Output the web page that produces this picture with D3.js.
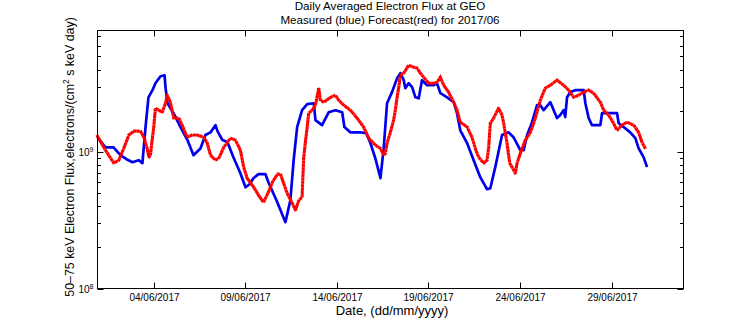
<!DOCTYPE html>
<html><head><meta charset="utf-8">
<script src="https://cdn.jsdelivr.net/npm/d3@7"></script>
<style>
body{margin:0;background:#fff}
svg{display:block}
text{font-family:"Liberation Sans",Arial,Helvetica,sans-serif;fill:#000}
</style>
</head><body>
<svg id="chart" width="756" height="324"></svg>
<script>
// ---- data (day = day of June 2017, fractional; flux in electrons/(cm^2 s keV day)) ----
const titleLines = ["Daily Averaged Electron Flux at GEO", "Measured (blue) Forecast(red) for 2017/06"];
const xLabel = "Date, (dd/mm/yyyy)";
const xTickDays = [4, 9, 14, 19, 24, 29];
const yMajorTicks = [1e8, 1e9];
const yMajorExponents = ["8", "9"];
const yMinorTicks = [2e8,3e8,4e8,5e8,6e8,7e8,8e8,9e8,2e9,3e9,4e9,5e9,6e9,7e9];

const measured = [[0.93,1.28e9],[1.36,1.08e9],[1.80,1.08e9],[2.18,9.46e8],[2.51,8.84e8],[2.84,8.41e8],[3.17,8.70e8],[3.38,8.27e8],[3.55,1.52e9],[3.71,2.51e9],[3.93,2.83e9],[4.09,3.18e9],[4.37,3.58e9],[4.59,3.64e9],[4.64,2.98e9],[4.75,2.27e9],[5.08,1.92e9],[5.46,1.52e9],[5.84,1.22e9],[6.17,9.46e8],[6.55,1.06e9],[6.82,1.33e9],[7.10,1.39e9],[7.37,1.57e9],[7.48,1.42e9],[7.75,1.22e9],[8.02,1.18e9],[8.35,9.15e8],[8.73,6.98e8],[9.01,5.51e8],[9.23,5.80e8],[9.44,6.42e8],[9.72,6.87e8],[10.10,6.87e8],[10.26,6.00e8],[10.70,4.43e8],[11.19,3.06e8],[11.46,4.43e8],[11.64,8.70e8],[11.83,1.52e9],[12.10,2.02e9],[12.38,2.24e9],[12.74,2.27e9],[12.83,1.71e9],[13.19,1.57e9],[13.55,1.95e9],[13.92,2.02e9],[14.29,1.95e9],[14.41,1.52e9],[14.74,1.39e9],[15.28,1.39e9],[15.61,1.37e9],[15.83,1.16e9],[16.10,8.99e8],[16.38,6.42e8],[16.56,1.08e9],[16.74,2.27e9],[17.01,2.74e9],[17.29,3.46e9],[17.47,3.77e9],[17.65,3.35e9],[17.74,2.93e9],[17.92,3.18e9],[18.11,2.98e9],[18.29,2.51e9],[18.47,2.47e9],[18.65,3.35e9],[18.93,3.08e9],[19.29,3.08e9],[19.47,3.18e9],[19.65,2.69e9],[20.02,2.51e9],[20.38,2.31e9],[20.56,1.92e9],[20.74,1.44e9],[21.11,1.16e9],[21.47,8.70e8],[21.83,6.53e8],[22.20,5.33e8],[22.38,5.42e8],[22.65,7.73e8],[23.02,1.33e9],[23.38,1.39e9],[23.65,1.28e9],[24.02,1.03e9],[24.20,1.03e9],[24.39,1.33e9],[24.66,1.65e9],[24.93,2.20e9],[25.11,2.20e9],[25.29,2.02e9],[25.66,2.31e9],[25.84,2.02e9],[26.02,1.77e9],[26.20,1.86e9],[26.38,2.02e9],[26.47,1.80e9],[26.57,2.51e9],[26.75,2.74e9],[27.02,2.83e9],[27.48,2.83e9],[27.57,2.27e9],[27.75,1.77e9],[27.93,1.57e9],[28.39,1.57e9],[28.48,1.92e9],[28.84,1.92e9],[29.30,1.92e9],[29.39,1.62e9],[29.66,1.52e9],[30.02,1.39e9],[30.30,1.26e9],[30.48,1.06e9],[30.75,9.15e8],[30.94,7.73e8]];

const forecast = [[0.93,1.30e9],[1.36,1.03e9],[1.82,8.27e8],[2.09,8.70e8],[2.36,1.06e9],[2.64,1.33e9],[2.91,1.42e9],[3.27,1.42e9],[3.46,1.28e9],[3.64,1.06e9],[3.73,9.15e8],[3.82,9.46e8],[3.91,1.22e9],[4.00,1.52e9],[4.09,2.09e9],[4.27,2.02e9],[4.46,1.95e9],[4.64,2.27e9],[4.73,2.60e9],[4.91,2.31e9],[5.09,1.77e9],[5.37,1.77e9],[5.55,1.57e9],[5.82,1.28e9],[6.10,1.33e9],[6.37,1.33e9],[6.73,1.28e9],[6.92,1.16e9],[7.10,9.46e8],[7.37,8.70e8],[7.55,8.99e8],[7.82,1.08e9],[8.19,1.26e9],[8.46,1.22e9],[8.73,1.03e9],[8.91,7.73e8],[9.10,6.42e8],[9.46,5.51e8],[9.72,4.82e8],[9.99,4.28e8],[10.26,5.07e8],[10.48,6.00e8],[10.75,6.87e8],[10.92,6.87e8],[11.28,4.99e8],[11.56,4.21e8],[11.74,3.74e8],[11.92,4.43e8],[12.10,4.66e8],[12.14,6.42e8],[12.19,9.15e8],[12.28,1.18e9],[12.38,1.52e9],[12.46,1.92e9],[12.65,2.02e9],[12.83,2.20e9],[13.01,2.93e9],[13.10,2.39e9],[13.28,2.31e9],[13.65,2.51e9],[13.92,2.60e9],[14.10,2.39e9],[14.37,2.20e9],[14.74,2.02e9],[15.10,1.77e9],[15.46,1.52e9],[15.74,1.26e9],[16.10,1.12e9],[16.38,1.06e9],[16.56,9.46e8],[16.65,9.77e8],[16.74,1.16e9],[16.92,1.39e9],[17.10,1.71e9],[17.19,2.02e9],[17.29,2.51e9],[17.38,2.98e9],[17.47,3.64e9],[17.65,3.77e9],[17.92,4.31e9],[18.19,4.17e9],[18.38,4.10e9],[18.56,3.77e9],[18.74,3.52e9],[19.01,3.18e9],[19.28,3.18e9],[19.47,3.23e9],[19.65,3.52e9],[19.83,3.08e9],[20.10,2.74e9],[20.38,2.31e9],[20.56,2.02e9],[20.74,1.65e9],[21.11,1.52e9],[21.38,1.28e9],[21.56,1.06e9],[21.74,9.15e8],[22.02,8.27e8],[22.20,8.70e8],[22.29,1.08e9],[22.38,1.62e9],[22.56,1.77e9],[22.83,2.09e9],[23.02,1.86e9],[23.11,1.62e9],[23.29,1.16e9],[23.44,8.27e8],[23.57,7.73e8],[23.75,6.98e8],[23.84,8.27e8],[24.02,9.77e8],[24.29,1.22e9],[24.57,1.39e9],[24.84,1.77e9],[25.11,2.39e9],[25.38,2.93e9],[25.66,3.08e9],[26.02,3.35e9],[26.38,3.08e9],[26.66,2.83e9],[26.93,2.51e9],[27.20,2.60e9],[27.48,2.74e9],[27.75,2.83e9],[28.02,2.69e9],[28.39,2.31e9],[28.57,2.02e9],[28.84,1.86e9],[29.11,1.62e9],[29.30,1.44e9],[29.57,1.57e9],[29.84,1.65e9],[30.21,1.57e9],[30.48,1.39e9],[30.66,1.18e9],[30.84,1.06e9],[30.94,1.08e9]];

// ---- layout ----
const L = 97.5, R = 683.5, T = 30.5, B = 288.5;
const dayToDate = d => new Date(Date.UTC(2017, 5, 1) + (d - 1) * 864e5);

const x = d3.scaleUtc().domain([dayToDate(0.927), dayToDate(32.93)]).range([L, R]);
const y = d3.scaleLog().domain([1e8, Math.pow(10, 8 + (B - T) / 136.6)]).range([B, T]);

const svg = d3.select("#chart");
const fmt = d3.utcFormat("%d/%m/%Y");

// series
const line = d3.line().x(d => x(dayToDate(d[0]))).y(d => y(d[1]));
svg.append("path").datum(measured).attr("d", line)
  .attr("fill", "none").attr("stroke", "#0000ee").attr("stroke-width", 2.7)
  .attr("stroke-linejoin", "round");
svg.append("path").datum(forecast).attr("d", line)
  .attr("fill", "none").attr("stroke", "#ff0000").attr("stroke-width", 3.1)
  .attr("stroke-linecap", "square").attr("stroke-dasharray", "0.1 3.3");

// frame
const g = svg.append("g").attr("stroke", "#000").attr("stroke-width", 1).attr("fill", "none");
g.append("rect").attr("x", L).attr("y", T).attr("width", R - L).attr("height", B - T);

// x ticks (inward, bottom and top)
xTickDays.forEach(dd => {
  const px = Math.round(x(dayToDate(dd))) + 0.5;
  g.append("line").attr("x1", px).attr("x2", px).attr("y1", B).attr("y2", B - 6);
  g.append("line").attr("x1", px).attr("x2", px).attr("y1", T).attr("y2", T + 6);
  svg.append("text").attr("x", px).attr("y", 300.5).attr("text-anchor", "middle")
    .attr("font-size", 10).text(fmt(dayToDate(dd)));
});

// y ticks (inward, left and right)
yMajorTicks.forEach((v, i) => {
  const py = Math.round(y(v)) + 0.5;
  g.append("line").attr("x1", L).attr("x2", L + 6).attr("y1", py).attr("y2", py);
  g.append("line").attr("x1", R).attr("x2", R - 6).attr("y1", py).attr("y2", py);
  const t = svg.append("text").attr("x", 93.5).attr("y", py + 3.5).attr("text-anchor", "end").attr("font-size", 10);
  t.append("tspan").text("10");
  t.append("tspan").attr("font-size", 7).attr("dy", -4).text(yMajorExponents[i]);
});
yMinorTicks.forEach(v => {
  const py = Math.round(y(v)) + 0.5;
  g.append("line").attr("x1", L).attr("x2", L + 3.5).attr("y1", py).attr("y2", py);
  g.append("line").attr("x1", R).attr("x2", R - 3.5).attr("y1", py).attr("y2", py);
});

// titles
svg.append("text").attr("x", 390).attr("y", 10.4).attr("text-anchor", "middle").attr("font-size", 11.6).text(titleLines[0]);
svg.append("text").attr("x", 390).attr("y", 23.6).attr("text-anchor", "middle").attr("font-size", 11.6).text(titleLines[1]);
svg.append("text").attr("x", 392).attr("y", 315).attr("text-anchor", "middle").attr("font-size", 13).text(xLabel);

// y label
const yl = svg.append("text").attr("transform", "translate(74,157) rotate(-90)")
  .attr("text-anchor", "middle").attr("font-size", 12.4);
yl.append("tspan").text("50–75 keV Electron Flux,electrons/(cm");
yl.append("tspan").attr("font-size", 8.5).attr("dy", -5).text("2");
yl.append("tspan").attr("dy", 5).text(" s keV day)");
</script>
</body></html>
